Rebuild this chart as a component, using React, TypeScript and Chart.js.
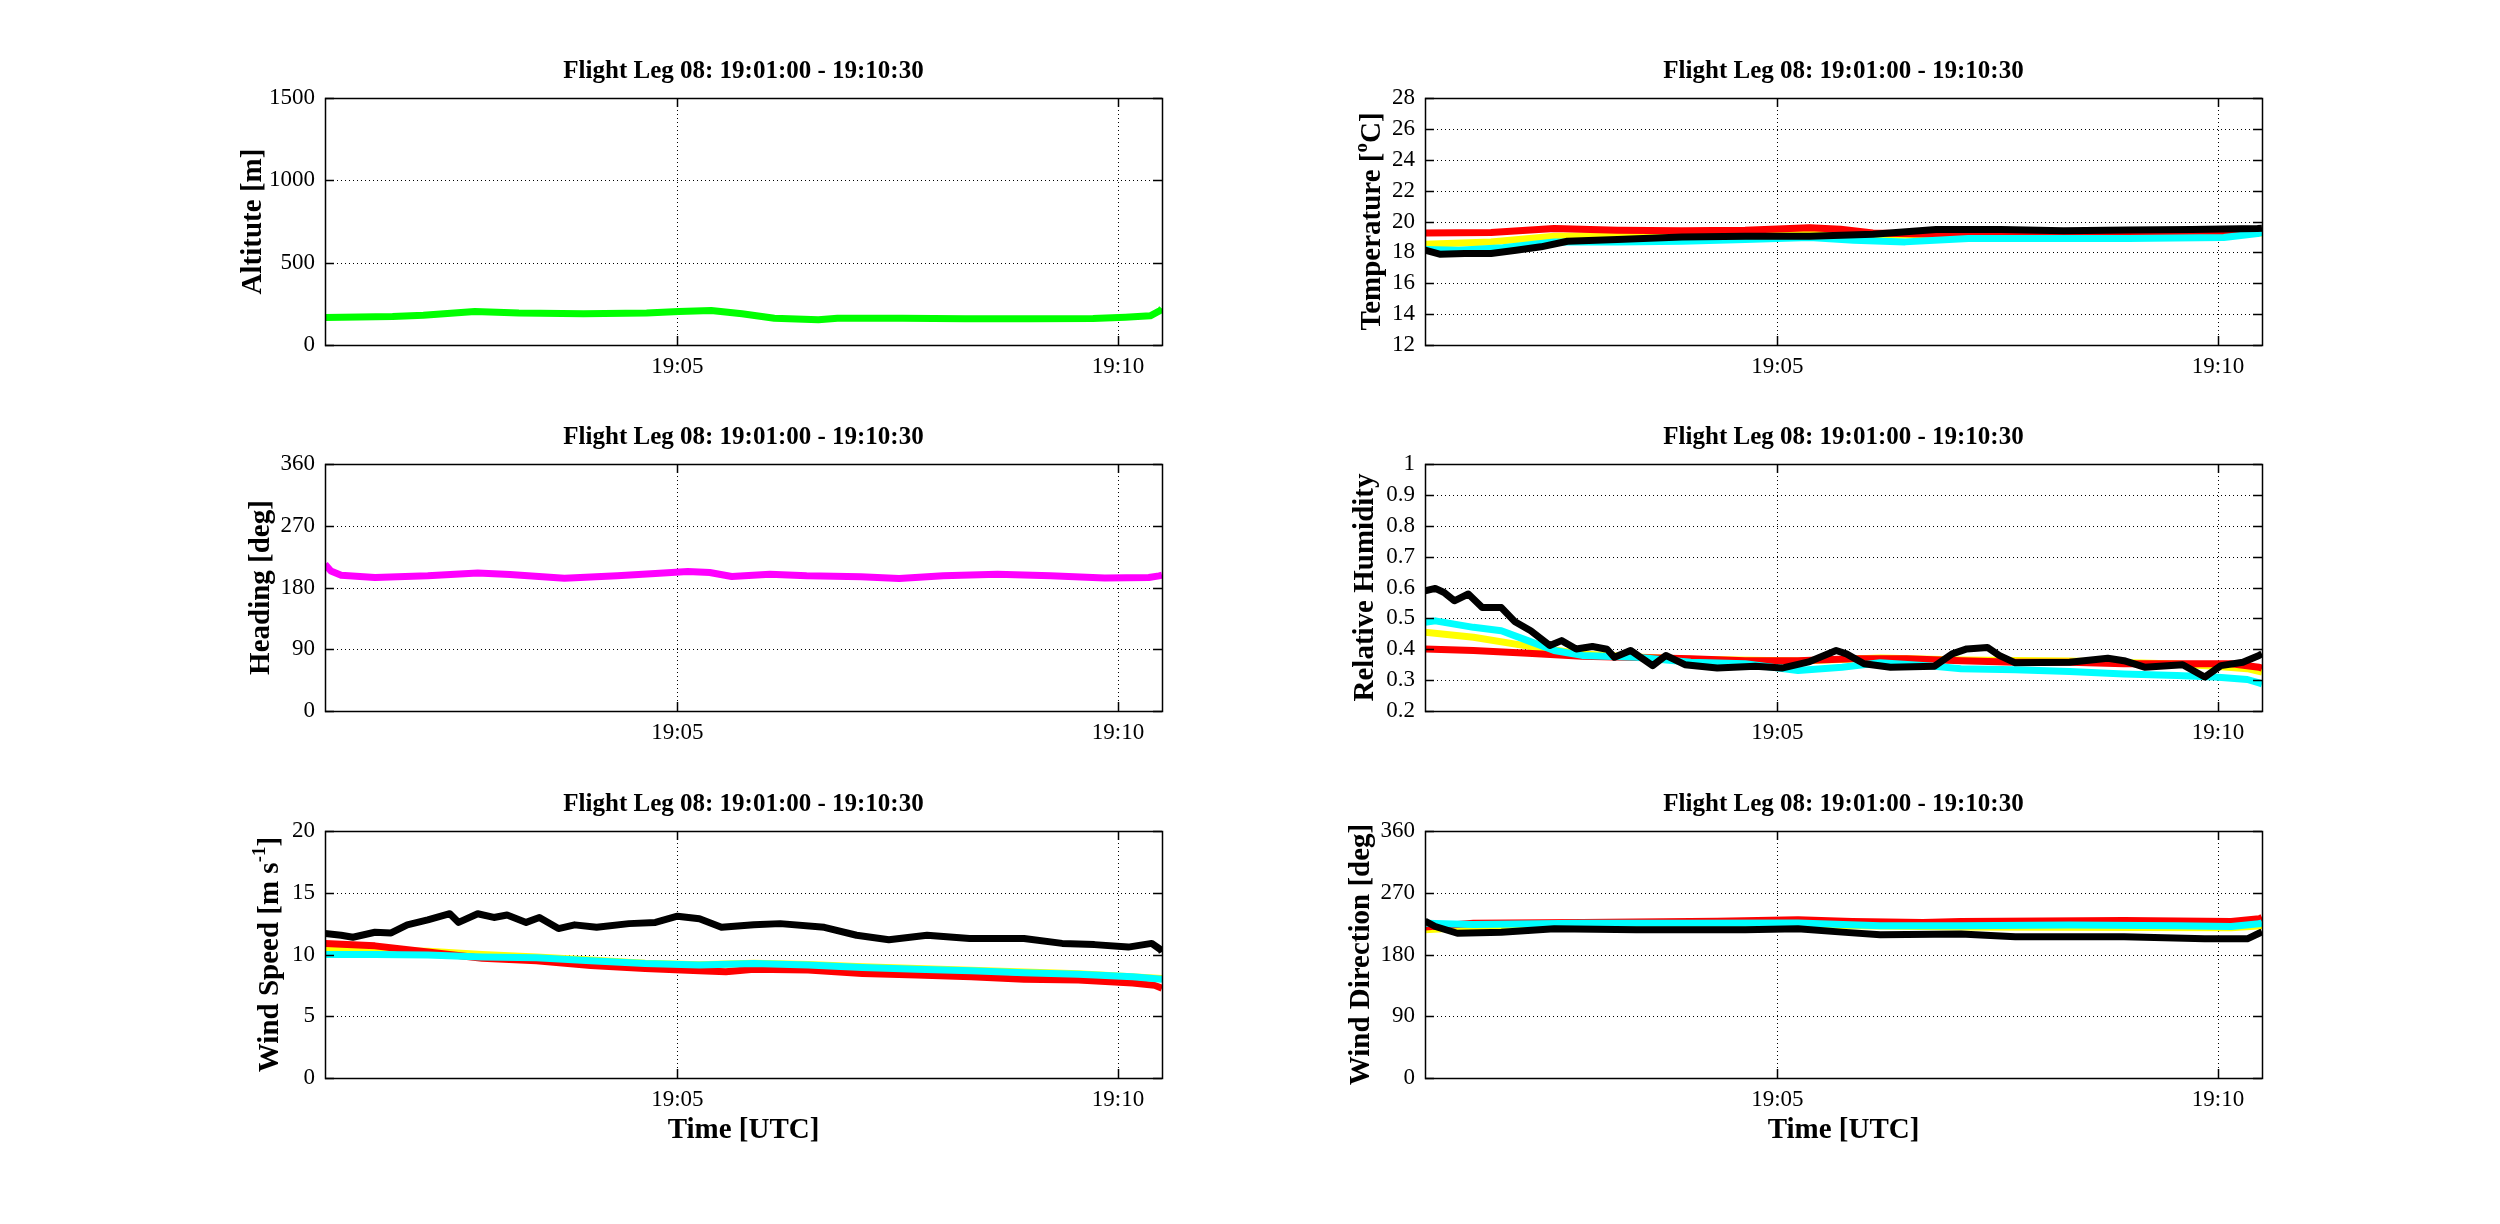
import React, { useEffect, useRef } from "react";
import { Chart, registerables } from "chart.js";

Chart.register(...registerables);

const FONT = "'Liberation Serif', 'Times New Roman', Times, serif";
const PANEL_TITLE = "Flight Leg 08: 19:01:00 - 19:10:30";
const X_LABEL = "Time [UTC]";
const X_MAX_SECONDS = 570; // 19:01:00 -> 19:10:30
const X_TICK_SECONDS = [240, 540];
const X_TICK_LABELS = ["19:05", "19:10"];

// ---------- Altitude ----------
const ALT_TICKS = [0, 500, 1000, 1500];
const ALT_TICK_LABELS = ["0", "500", "1000", "1500"];
const altT = [0, 46, 67, 102, 132, 176, 219, 241, 263, 284, 306, 336, 349, 393, 436, 480, 523, 545, 562, 569, 570];
const altV = [167, 173, 181, 204, 194, 190, 194, 204, 210, 190, 163, 153, 163, 163, 159, 159, 161, 169, 177, 210, 222];

// ---------- Heading ----------
const DEG_TICKS = [0, 90, 180, 270, 360];
const DEG_TICK_LABELS = ["0", "90", "180", "270", "360"];
const hdgT = [0, 4, 11, 34, 70, 104, 126, 163, 199, 225, 247, 262, 277, 303, 328, 365, 391, 421, 458, 494, 531, 561, 568, 570];
const hdgV = [214, 204, 198, 194.6, 197, 201, 199, 193.6, 197, 200.4, 203.3, 201.9, 196, 199.4, 197, 195.5, 193, 197, 199.4, 197, 194, 194.6, 197, 198];

// ---------- Wind speed ----------
const WS_TICKS = [0, 5, 10, 15, 20];
const WS_TICK_LABELS = ["0", "5", "10", "15", "20"];
const wsBlackT = [0, 11, 19, 34, 45, 56, 70, 85, 91, 104, 115, 124, 137, 146, 159, 170, 185, 207, 225, 240, 255, 270, 292, 310, 340, 362, 384, 410, 439, 476, 502, 524, 547, 563, 569, 570];
const wsBlackV = [11.7, 11.56, 11.4, 11.8, 11.75, 12.4, 12.8, 13.3, 12.6, 13.3, 13.0, 13.2, 12.6, 13.0, 12.1, 12.4, 12.2, 12.5, 12.6, 13.1, 12.9, 12.2, 12.4, 12.5, 12.2, 11.56, 11.2, 11.56, 11.3, 11.3, 10.9, 10.8, 10.6, 10.9, 10.4, 10.2];
const wsRedT = [0, 34, 70, 107, 144, 181, 218, 255, 273, 292, 329, 366, 403, 440, 476, 513, 550, 565, 570];
const wsRedV = [10.9, 10.7, 10.2, 9.7, 9.5, 9.1, 8.87, 8.68, 8.6, 8.8, 8.74, 8.47, 8.33, 8.2, 8.0, 7.93, 7.7, 7.5, 7.26];
const wsCyanT = [0, 34, 70, 107, 144, 181, 218, 255, 292, 329, 366, 403, 440, 476, 513, 550, 570];
const wsCyanV = [10.0, 10.0, 9.95, 9.8, 9.73, 9.5, 9.27, 9.14, 9.27, 9.14, 8.95, 8.8, 8.68, 8.52, 8.4, 8.2, 8.0];
const wsYellowT = [0, 34, 70, 107, 144, 181, 218, 255, 292, 329, 366, 440, 513, 570];
const wsYellowV = [10.5, 10.35, 10.27, 10.0, 9.8, 9.55, 9.3, 9.18, 9.3, 9.2, 9.0, 8.72, 8.45, 8.05];

// ---------- Temperature ----------
const TEMP_TICKS = [12, 14, 16, 18, 20, 22, 24, 26, 28];
const TEMP_TICK_LABELS = ["12", "14", "16", "18", "20", "22", "24", "26", "28"];
const tRedT = [0, 45, 88, 131, 175, 218, 262, 283, 305, 348, 392, 435, 479, 522, 565, 570];
const tRedV = [19.26, 19.28, 19.54, 19.43, 19.4, 19.43, 19.6, 19.5, 19.26, 19.18, 19.22, 19.22, 19.22, 19.26, 19.33, 19.4];
const tYellowT = [0, 45, 88, 131, 175, 218, 262, 305, 348, 435, 522, 570];
const tYellowV = [18.53, 18.68, 19.05, 19.1, 19.18, 19.22, 19.26, 19.1, 19.15, 19.2, 19.2, 19.25];
const tCyanT = [0, 23, 53, 88, 131, 175, 218, 262, 292, 327, 370, 413, 479, 544, 567, 570];
const tCyanV = [18.18, 18.14, 18.3, 18.68, 18.68, 18.72, 18.83, 18.96, 18.79, 18.68, 18.9, 18.9, 18.9, 18.96, 19.22, 19.3];
const tBlackT = [0, 10, 27, 45, 62, 79, 97, 131, 175, 218, 262, 305, 348, 392, 435, 479, 522, 567, 570];
const tBlackV = [18.14, 17.88, 17.93, 17.93, 18.14, 18.36, 18.72, 18.83, 19.0, 19.05, 19.05, 19.18, 19.48, 19.48, 19.4, 19.45, 19.48, 19.54, 19.56];

// ---------- Relative humidity ----------
const RH_TICKS = [0.2, 0.3, 0.4, 0.5, 0.6, 0.7, 0.8, 0.9, 1];
const RH_TICK_LABELS = ["0.2", "0.3", "0.4", "0.5", "0.6", "0.7", "0.8", "0.9", "1"];
const rhBlackT = [0, 7, 13, 20, 29.5, 39, 52, 61, 72, 85, 93, 103, 114, 124, 129, 140, 155, 164, 177, 199, 225, 243, 262, 280, 287, 299, 317, 347, 359, 369, 383, 391, 402, 439, 465, 476, 490, 516, 531, 542, 557, 568, 570];
const rhBlackV = [0.589, 0.597, 0.584, 0.557, 0.579, 0.535, 0.535, 0.49, 0.46, 0.412, 0.428, 0.401, 0.409, 0.4, 0.374, 0.396, 0.347, 0.38, 0.35, 0.339, 0.345, 0.339, 0.36, 0.396, 0.385, 0.353, 0.342, 0.345, 0.385, 0.401, 0.406, 0.38, 0.356, 0.358, 0.371, 0.363, 0.342, 0.35, 0.31, 0.347, 0.358, 0.38, 0.385];
const rhCyanT = [0, 7, 33, 52, 70, 88, 107, 144, 181, 218, 254, 284, 310, 347, 365, 402, 439, 476, 512, 538, 560, 568, 570];
const rhCyanV = [0.487, 0.492, 0.471, 0.46, 0.428, 0.396, 0.38, 0.374, 0.358, 0.353, 0.331, 0.342, 0.356, 0.345, 0.337, 0.334, 0.328, 0.32, 0.315, 0.31, 0.302, 0.291, 0.288];
const rhYellowT = [0, 33, 70, 107, 144, 181, 254, 310, 365, 439, 512, 538, 560, 570];
const rhYellowV = [0.455, 0.439, 0.41, 0.385, 0.375, 0.368, 0.362, 0.372, 0.365, 0.362, 0.352, 0.345, 0.337, 0.326];
const rhRedT = [0, 33, 70, 107, 144, 181, 218, 254, 291, 328, 365, 402, 439, 476, 512, 549, 568, 570];
const rhRedV = [0.401, 0.396, 0.387, 0.377, 0.373, 0.369, 0.363, 0.363, 0.369, 0.369, 0.363, 0.358, 0.358, 0.353, 0.353, 0.353, 0.342, 0.338];

// ---------- Wind direction ----------
const wdRedT = [0, 33, 107, 199, 254, 291, 339, 365, 476, 549, 568, 570];
const wdRedV = [220, 225.7, 226.6, 228.6, 230.5, 228, 226.6, 228, 229.6, 228, 232, 234];
const wdCyanT = [0, 33, 107, 181, 254, 310, 365, 439, 512, 549, 568, 570];
const wdCyanV = [225.7, 223.7, 225.7, 225.7, 226, 222, 222, 223, 222, 220.8, 224.7, 226];
const wdYellowT = [0, 33, 107, 254, 365, 549, 570];
const wdYellowV = [216, 220, 222, 223, 220, 219, 222];
const wdBlackT = [0, 7, 22, 52, 88, 144, 218, 254, 284, 310, 365, 402, 476, 531, 560, 568, 570];
const wdBlackV = [228.6, 220.8, 211, 212.6, 217.4, 216, 216, 217.4, 212.6, 208.7, 210, 206, 206, 202.8, 202.8, 211, 213];

// ---------- layout ----------
const PLOT_W = 837;
const PLOT_H = 247;
const PAD_L = 140;
const PAD_T = 70;
const PAD_R = 30;
const PAD_B = 90;
const COL_X = [325, 1425];
const ROW_Y = [98, 464, 831];

type Seg = { text: string; sup?: boolean };
type Series = { t: number[]; v: number[]; color: string };
type PanelSpec = {
  key: string;
  col: number;
  row: number;
  yMin: number;
  yMax: number;
  yTicks: number[];
  yTickLabels: string[];
  yLabel: Seg[];
  yLabelOffset: number;
  showXLabel: boolean;
  series: Series[];
};

const PANELS: PanelSpec[] = [
  {
    key: "alt", col: 0, row: 0, yMin: 0, yMax: 1500, yTicks: ALT_TICKS, yTickLabels: ALT_TICK_LABELS,
    yLabel: [{ text: "Altitute [m]" }], yLabelOffset: 64, showXLabel: false,
    series: [{ t: altT, v: altV, color: "#00ff00" }],
  },
  {
    key: "temp", col: 1, row: 0, yMin: 12, yMax: 28, yTicks: TEMP_TICKS, yTickLabels: TEMP_TICK_LABELS,
    yLabel: [{ text: "Temperature [" }, { text: "o", sup: true }, { text: "C]" }], yLabelOffset: 45, showXLabel: false,
    series: [
      { t: tBlackT, v: tBlackV, color: "#000000" },
      { t: tCyanT, v: tCyanV, color: "#00ffff" },
      { t: tRedT, v: tRedV, color: "#ff0000" },
      { t: tYellowT, v: tYellowV, color: "#ffff00" },
    ],
  },
  {
    key: "hdg", col: 0, row: 1, yMin: 0, yMax: 360, yTicks: DEG_TICKS, yTickLabels: DEG_TICK_LABELS,
    yLabel: [{ text: "Heading [deg]" }], yLabelOffset: 56, showXLabel: false,
    series: [{ t: hdgT, v: hdgV, color: "#ff00ff" }],
  },
  {
    key: "rh", col: 1, row: 1, yMin: 0.2, yMax: 1, yTicks: RH_TICKS, yTickLabels: RH_TICK_LABELS,
    yLabel: [{ text: "Relative Humidity" }], yLabelOffset: 52, showXLabel: false,
    series: [
      { t: rhBlackT, v: rhBlackV, color: "#000000" },
      { t: rhCyanT, v: rhCyanV, color: "#00ffff" },
      { t: rhRedT, v: rhRedV, color: "#ff0000" },
      { t: rhYellowT, v: rhYellowV, color: "#ffff00" },
    ],
  },
  {
    key: "ws", col: 0, row: 2, yMin: 0, yMax: 20, yTicks: WS_TICKS, yTickLabels: WS_TICK_LABELS,
    yLabel: [{ text: "Wind Speed [m s" }, { text: "-1", sup: true }, { text: "]" }], yLabelOffset: 47, showXLabel: true,
    series: [
      { t: wsBlackT, v: wsBlackV, color: "#000000" },
      { t: wsCyanT, v: wsCyanV, color: "#00ffff" },
      { t: wsRedT, v: wsRedV, color: "#ff0000" },
      { t: wsYellowT, v: wsYellowV, color: "#ffff00" },
    ],
  },
  {
    key: "wd", col: 1, row: 2, yMin: 0, yMax: 360, yTicks: DEG_TICKS, yTickLabels: DEG_TICK_LABELS,
    yLabel: [{ text: "Wind Direction [deg]" }], yLabelOffset: 56, showXLabel: true,
    series: [
      { t: wdBlackT, v: wdBlackV, color: "#000000" },
      { t: wdCyanT, v: wdCyanV, color: "#00ffff" },
      { t: wdRedT, v: wdRedV, color: "#ff0000" },
      { t: wdYellowT, v: wdYellowV, color: "#ffff00" },
    ],
  },
];

function makeDecorPlugin(spec: PanelSpec) {
  return {
    id: "decor_" + spec.key,
    beforeDatasetsDraw(chart: any) {
      const { ctx, chartArea } = chart;
      const { left, top, right, bottom } = chartArea;
      const xs = chart.scales.x;
      const ys = chart.scales.y;
      ctx.save();
      ctx.strokeStyle = "#000";
      ctx.lineWidth = 1;
      ctx.setLineDash([1, 3]);
      for (const v of X_TICK_SECONDS) {
        const px = Math.round(xs.getPixelForValue(v)) + 0.5;
        ctx.beginPath();
        ctx.moveTo(px, top);
        ctx.lineTo(px, bottom);
        ctx.stroke();
      }
      for (const v of spec.yTicks) {
        if (v === spec.yMin || v === spec.yMax) continue;
        const py = Math.round(ys.getPixelForValue(v)) + 0.5;
        ctx.beginPath();
        ctx.moveTo(left, py);
        ctx.lineTo(right, py);
        ctx.stroke();
      }
      ctx.restore();
    },
    afterDraw(chart: any) {
      const { ctx, chartArea } = chart;
      const { left, top, right, bottom } = chartArea;
      const xs = chart.scales.x;
      const ys = chart.scales.y;
      ctx.save();
      ctx.strokeStyle = "#000";
      ctx.setLineDash([]);
      ctx.lineWidth = 1.5;
      const TL = 9;
      ctx.beginPath();
      for (const v of X_TICK_SECONDS) {
        const px = Math.round(xs.getPixelForValue(v)) + 0.5;
        ctx.moveTo(px, bottom);
        ctx.lineTo(px, bottom - TL);
        ctx.moveTo(px, top);
        ctx.lineTo(px, top + TL);
      }
      for (const v of spec.yTicks) {
        const py = Math.round(ys.getPixelForValue(v)) + 0.5;
        ctx.moveTo(left, py);
        ctx.lineTo(left + TL, py);
        ctx.moveTo(right, py);
        ctx.lineTo(right - TL, py);
      }
      ctx.stroke();
      ctx.strokeRect(Math.round(left) + 0.5, Math.round(top) + 0.5, Math.round(right - left), Math.round(bottom - top));

      // title
      ctx.fillStyle = "#000";
      ctx.font = `bold 25px ${FONT}`;
      ctx.textAlign = "center";
      ctx.textBaseline = "alphabetic";
      ctx.fillText(PANEL_TITLE, (left + right) / 2, top - 20);

      // x label
      if (spec.showXLabel) {
        ctx.font = `bold 29px ${FONT}`;
        ctx.fillText(X_LABEL, (left + right) / 2, bottom + 60);
      }

      // y label (rotated, with superscripts)
      const mainFont = `bold 29px ${FONT}`;
      const supFont = `bold 19px ${FONT}`;
      let total = 0;
      const widths: number[] = [];
      for (const s of spec.yLabel) {
        ctx.font = s.sup ? supFont : mainFont;
        const w = ctx.measureText(s.text).width;
        widths.push(w);
        total += w;
      }
      ctx.translate(left - spec.yLabelOffset, (top + bottom) / 2);
      ctx.rotate(-Math.PI / 2);
      ctx.textAlign = "left";
      let cx = -total / 2;
      spec.yLabel.forEach((s, i) => {
        ctx.font = s.sup ? supFont : mainFont;
        ctx.fillText(s.text, cx, s.sup ? -13 : 0);
        cx += widths[i];
      });
      ctx.restore();
    },
  };
}

function Panel({ spec }: { spec: PanelSpec }) {
  const ref = useRef<HTMLCanvasElement | null>(null);
  const width = PAD_L + PLOT_W + PAD_R;
  const height = PAD_T + PLOT_H + PAD_B;
  const left = COL_X[spec.col] - PAD_L;
  const top = ROW_Y[spec.row] - PAD_T;

  useEffect(() => {
    if (!ref.current) return;
    const datasets = spec.series.map((s) => ({
      data: s.t.map((t, i) => ({ x: t, y: s.v[i] })),
      borderColor: s.color,
      backgroundColor: s.color,
      borderWidth: 7,
      pointRadius: 0,
      tension: 0,
      fill: false,
      clip: 0,
      borderJoinStyle: "round" as const,
    }));
    const chart = new Chart(ref.current, {
      type: "line",
      data: { datasets },
      plugins: [makeDecorPlugin(spec)],
      options: {
        responsive: false,
        animation: false,
        devicePixelRatio: 1,
        events: [],
        layout: { padding: { left: 0, top: PAD_T, right: PAD_R, bottom: 0 } },
        plugins: {
          legend: { display: false },
          tooltip: { enabled: false },
          title: { display: false },
        },
        scales: {
          x: {
            type: "linear",
            min: 0,
            max: X_MAX_SECONDS,
            grid: { display: false, drawTicks: false },
            border: { display: false },
            afterBuildTicks: (scale: any) => {
              scale.ticks = X_TICK_SECONDS.map((v) => ({ value: v }));
            },
            afterFit: (scale: any) => {
              scale.height = PAD_B;
            },
            ticks: {
              autoSkip: false,
              maxRotation: 0,
              minRotation: 0,
              padding: 8,
              color: "#000",
              font: { family: FONT, size: 23 },
              callback: (_v: any, i: number) => X_TICK_LABELS[i],
            },
          },
          y: {
            type: "linear",
            min: spec.yMin,
            max: spec.yMax,
            grid: { display: false, drawTicks: false },
            border: { display: false },
            afterBuildTicks: (scale: any) => {
              scale.ticks = spec.yTicks.map((v) => ({ value: v }));
            },
            afterFit: (scale: any) => {
              scale.width = PAD_L;
            },
            ticks: {
              autoSkip: false,
              padding: 10,
              color: "#000",
              font: { family: FONT, size: 23 },
              callback: (_v: any, i: number) => spec.yTickLabels[i],
            },
          },
        },
      } as any,
    });
    return () => chart.destroy();
  }, [spec]);

  return (
    <canvas
      ref={ref}
      width={width}
      height={height}
      style={{ position: "absolute", left, top, width, height }}
    />
  );
}

export default function App() {
  return (
    <div
      style={{
        position: "absolute",
        left: 0,
        top: 0,
        width: 2500,
        height: 1224,
        background: "#fff",
        overflow: "hidden",
      }}
    >
      {PANELS.map((p) => (
        <Panel key={p.key} spec={p} />
      ))}
    </div>
  );
}
